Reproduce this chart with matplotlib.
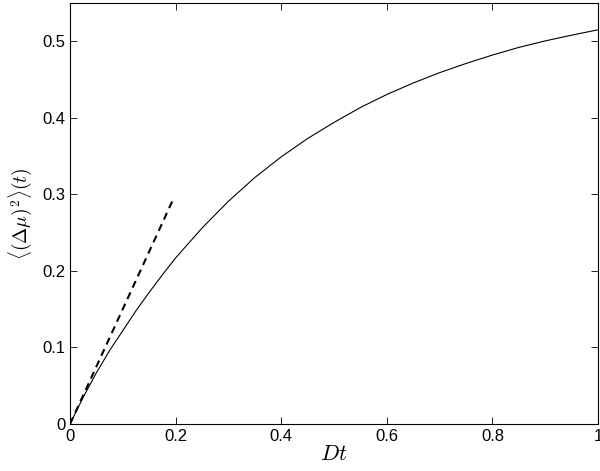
import numpy as np
import matplotlib
matplotlib.use('Agg')
import matplotlib.pyplot as plt

plt.rcParams['font.family'] = ['Liberation Sans', 'DejaVu Sans']
plt.rcParams['mathtext.fontset'] = 'cm'

# solid curve, values
t = [0, 0.025, 0.05, 0.075, 0.1, 0.125, 0.15, 0.175, 0.2, 0.25, 0.3, 0.35, 0.4,
     0.45, 0.5, 0.55, 0.6, 0.65, 0.7, 0.75, 0.8, 0.85, 0.9, 0.95, 1.0]
msd = [0, 0.035, 0.067, 0.096, 0.122, 0.148, 0.172, 0.195, 0.217, 0.256, 0.291,
       0.322, 0.349, 0.373, 0.394, 0.4135, 0.4305, 0.4455, 0.459, 0.471, 0.482,
       0.492, 0.5005, 0.508, 0.515]
# dashed short-time line
t_lin = [0, 0.195]
msd_lin = [0, 0.293]

fig = plt.figure(figsize=(6, 4.71), dpi=100)
ax = fig.add_axes([0.1167, 0.0998, 0.88, 0.8938])

ax.plot(t, msd, color='black', lw=0.8)
ax.plot(t_lin, msd_lin, color='black', lw=1.5, dashes=(3.5, 2.5))

ax.set_xlim(0, 1)
ax.set_ylim(0, 0.55)
ax.set_xticks([0, 0.2, 0.4, 0.6, 0.8, 1])
ax.set_xticklabels(['0', '0.2', '0.4', '0.6', '0.8', '1'])
ax.set_yticks([0, 0.1, 0.2, 0.3, 0.4, 0.5])
ax.set_yticklabels(['0', '0.1', '0.2', '0.3', '0.4', '0.5'])
ax.tick_params(direction='in', top=True, right=True, labelsize=12, length=5, width=0.6)
for s in ax.spines.values():
    s.set_linewidth(0.8)

ax.set_xlabel(r'$Dt$', fontsize=16, labelpad=0)
ax.set_ylabel(r'$\langle(\Delta\mu)^2\rangle(t)$', fontsize=14, labelpad=6)

fig.savefig('out.png', dpi=100)
